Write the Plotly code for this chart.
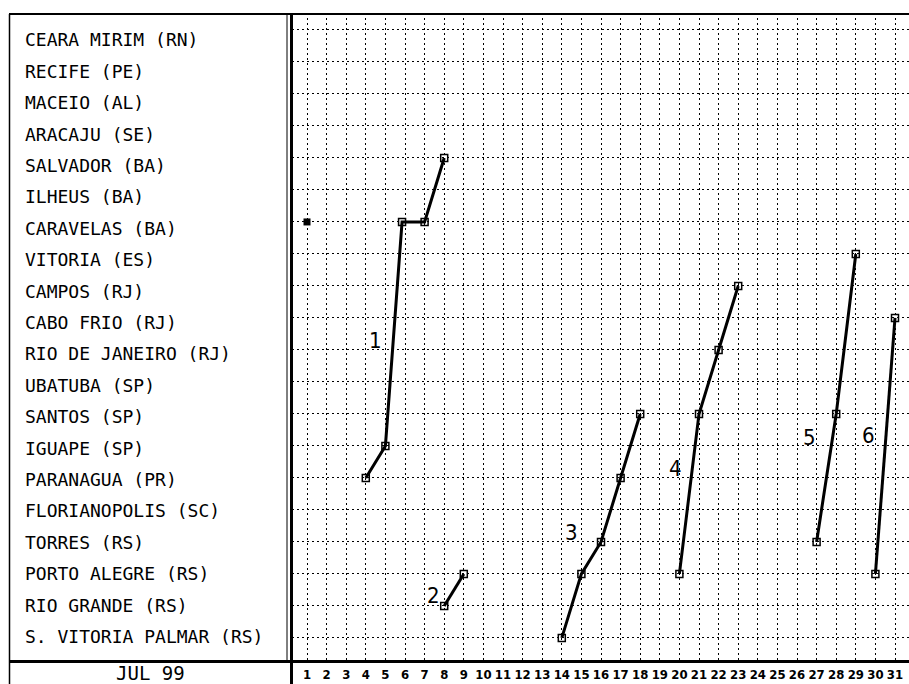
import plotly.graph_objects as go

# Coastal stations, north to south
stations = [
    "CEARA MIRIM (RN)", "RECIFE (PE)", "MACEIO (AL)", "ARACAJU (SE)",
    "SALVADOR (BA)", "ILHEUS (BA)", "CARAVELAS (BA)", "VITORIA (ES)",
    "CAMPOS (RJ)", "CABO FRIO (RJ)", "RIO DE JANEIRO (RJ)", "UBATUBA (SP)",
    "SANTOS (SP)", "IGUAPE (SP)", "PARANAGUA (PR)", "FLORIANOPOLIS (SC)",
    "TORRES (RS)", "PORTO ALEGRE (RS)", "RIO GRANDE (RS)", "S. VITORIA PALMAR (RS)",
]
days = list(range(1, 32))
month_label = "JUL 99"

# Front passages: day of month and station reached
front0_days = [1]
front0_sites = ["CARAVELAS (BA)"]

front1_days = [4, 5, 5.85, 7, 8]
front1_sites = ["PARANAGUA (PR)", "IGUAPE (SP)", "CARAVELAS (BA)", "CARAVELAS (BA)", "SALVADOR (BA)"]

front2_days = [8, 9]
front2_sites = ["RIO GRANDE (RS)", "PORTO ALEGRE (RS)"]

front3_days = [14, 15, 16, 17, 18]
front3_sites = ["S. VITORIA PALMAR (RS)", "PORTO ALEGRE (RS)", "TORRES (RS)", "PARANAGUA (PR)", "SANTOS (SP)"]

front4_days = [20, 21, 22, 23]
front4_sites = ["PORTO ALEGRE (RS)", "SANTOS (SP)", "RIO DE JANEIRO (RJ)", "CAMPOS (RJ)"]

front5_days = [27, 28, 29]
front5_sites = ["TORRES (RS)", "SANTOS (SP)", "VITORIA (ES)"]

front6_days = [30, 31]
front6_sites = ["PORTO ALEGRE (RS)", "CABO FRIO (RJ)"]

fronts = [
    (front1_days, front1_sites),
    (front2_days, front2_sites),
    (front3_days, front3_sites),
    (front4_days, front4_sites),
    (front5_days, front5_sites),
    (front6_days, front6_sites),
]

# Where each front number is written (day, station row)
front_tags = ["1", "2", "3", "4", "5", "6"]
tag_spots = [(4.52, 9.69), (7.43, 17.66), (14.52, 15.69), (19.78, 13.69), (26.66, 12.75), (29.67, 12.66)]

row = {name: i for i, name in enumerate(stations)}

W, H = 909, 684


def px(x):
    return x / W


def py(y):
    return 1 - y / H


fig = go.Figure()

for d, s in fronts:
    fig.add_trace(go.Scatter(
        x=d, y=[row[n] for n in s], mode="lines+markers",
        line=dict(color="black", width=3),
        marker=dict(symbol="square-open", size=7, color="black", line=dict(width=1.5)),
        showlegend=False, hoverinfo="skip",
    ))

fig.add_trace(go.Scatter(
    x=front0_days, y=[row[n] for n in front0_sites], mode="markers",
    marker=dict(symbol="square", size=7, color="black"),
    showlegend=False, hoverinfo="skip",
))

annotations = []
for tag, (dx, ry) in zip(front_tags, tag_spots):
    annotations.append(dict(
        x=dx, y=ry, xref="x", yref="y", text=tag, showarrow=False,
        font=dict(family="Liberation Sans Narrow, DejaVu Sans Condensed, sans-serif", size=22, color="black"),
    ))

for i, name in enumerate(stations):
    annotations.append(dict(
        x=px(23), y=i, xref="paper", yref="y2", text=name, showarrow=False,
        xanchor="left", yanchor="middle",
        font=dict(family="DejaVu Sans Mono, monospace", size=18, color="black"),
    ))

annotations.append(dict(
    x=px(150), y=py(673), xref="paper", yref="paper", text=month_label, showarrow=False,
    xanchor="center", yanchor="middle",
    font=dict(family="DejaVu Sans Mono, monospace", size=19, color="black"),
))

shapes = [
    dict(type="line", xref="paper", yref="paper", x0=px(9), x1=1, y0=py(14), y1=py(14),
         line=dict(color="black", width=2)),
    dict(type="line", xref="paper", yref="paper", x0=px(9.5), x1=px(9.5), y0=py(14), y1=0,
         line=dict(color="black", width=1.5)),
    dict(type="line", xref="paper", yref="paper", x0=px(287), x1=px(287), y0=py(14), y1=py(661),
         line=dict(color="black", width=1)),
    dict(type="line", xref="paper", yref="paper", x0=px(291.5), x1=px(291.5), y0=py(14), y1=0,
         line=dict(color="black", width=3)),
    dict(type="line", xref="paper", yref="paper", x0=px(9), x1=1, y0=py(661.5), y1=py(661.5),
         line=dict(color="black", width=3)),
]

grid_style = dict(showgrid=True, gridcolor="black", gridwidth=1, griddash="2px,3px", zeroline=False)

fig.update_layout(
    width=W, height=H,
    margin=dict(l=0, r=0, t=0, b=0),
    paper_bgcolor="white", plot_bgcolor="white",
    xaxis=dict(
        domain=[px(292), 1], range=[0.2347, 31.714],
        tickmode="array", tickvals=days, ticktext=["<b>%d</b>" % d for d in days],
        ticks="", showline=False, ticklabelstandoff=5,
        tickfont=dict(family="Liberation Sans Narrow, DejaVu Sans Condensed, sans-serif", size=13, color="black"),
        **grid_style,
    ),
    yaxis=dict(
        domain=[py(660), py(13)], range=[19.69, -0.53],
        tickmode="array", tickvals=list(range(len(stations))),
        showticklabels=False, ticks="", showline=False,
        **grid_style,
    ),
    yaxis2=dict(
        domain=[py(660), py(13)], range=[19.75, -0.86],
        overlaying="y", visible=False,
    ),
    annotations=annotations,
    shapes=shapes,
)

fig.write_html("out.html")
